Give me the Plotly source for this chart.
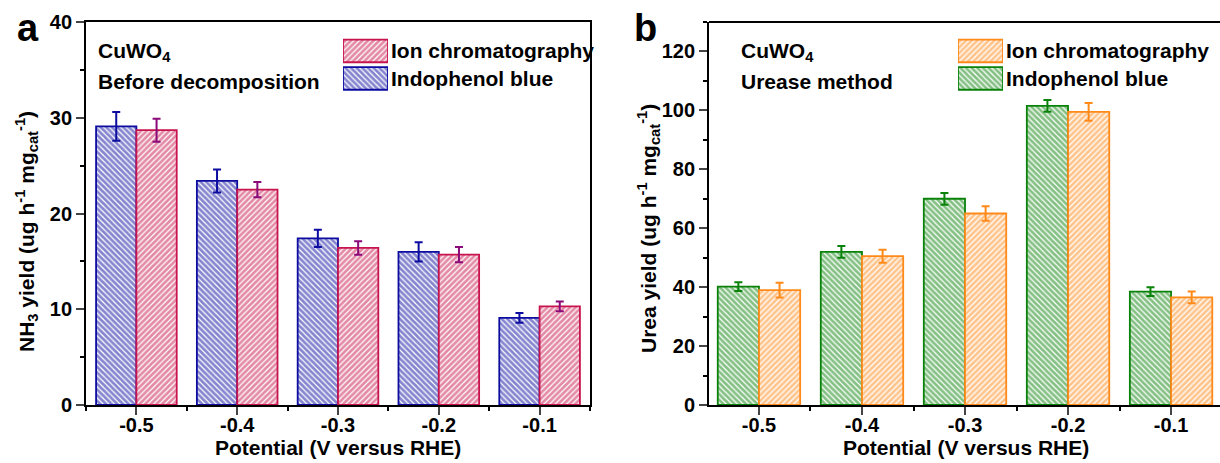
import plotly.graph_objects as go

potential = [-0.5, -0.4, -0.3, -0.2, -0.1]
tick_labels = ["-0.5", "-0.4", "-0.3", "-0.2", "-0.1"]

# Panel a: NH3 yield
nh3_indophenol = [29.1, 23.4, 17.4, 16.0, 9.1]
nh3_indophenol_err = [1.5, 1.2, 0.9, 1.0, 0.5]
nh3_ion = [28.7, 22.5, 16.4, 15.7, 10.3]
nh3_ion_err = [1.2, 0.8, 0.7, 0.8, 0.5]

# Panel b: Urea yield
urea_indophenol = [40.2, 52.0, 70.0, 101.5, 38.5]
urea_indophenol_err = [1.5, 2.0, 2.0, 2.0, 1.5]
urea_ion = [39.0, 50.5, 65.0, 99.5, 36.5]
urea_ion_err = [2.5, 2.2, 2.5, 3.0, 2.0]

FONT = "Liberation Sans"
W, H = 1220, 463

BLUE, PINK, PINK_ERR = "#0C0CA0", "#C8144E", "#8A0A7A"
GREEN, ORANGE = "#0A820A", "#FF8A1A"

def px_x(p):
    return p / W

def px_y(p):
    return 1 - p / H

fig = go.Figure()

def pattern(color, shape):
    return dict(shape=shape, fgcolor=color, bgcolor="white", size=4,
                solidity=0.7, fillmode="overlay")

def bar(x, y, err, name, color, errcolor, shape, offset, xa, ya):
    return go.Bar(
        x=x, y=y, name=name, width=0.04, offset=offset,
        xaxis=xa, yaxis=ya, showlegend=False,
        marker=dict(color="white", line=dict(color=color, width=1.8),
                    pattern=pattern(color, shape)),
        error_y=dict(type="data", array=err, color=errcolor, thickness=2, width=4),
    )

fig.add_trace(bar(potential, nh3_indophenol, nh3_indophenol_err, "Indophenol blue",
                  BLUE, BLUE, "\\", -0.04, "x", "y"))
fig.add_trace(bar(potential, nh3_ion, nh3_ion_err, "Ion chromatography",
                  PINK, PINK_ERR, "/", 0.0, "x", "y"))
fig.add_trace(bar(potential, urea_indophenol, urea_indophenol_err, "Indophenol blue",
                  GREEN, GREEN, "\\", -0.04, "x2", "y2"))
fig.add_trace(bar(potential, urea_ion, urea_ion_err, "Ion chromatography",
                  ORANGE, ORANGE, "/", 0.0, "x2", "y2"))

# legend swatches (drawn as bars in small helper axes)
def swatch(pos, name, color, shape, xa, ya):
    return go.Bar(x=[1], y=[pos], orientation="h", width=0.82, name=name,
                  xaxis=xa, yaxis=ya, showlegend=False, hoverinfo="name",
                  marker=dict(color="white", line=dict(color=color, width=1.8),
                              pattern=pattern(color, shape)))

fig.add_trace(swatch(1, "Ion chromatography", PINK, "/", "x3", "y3"))
fig.add_trace(swatch(0, "Indophenol blue", BLUE, "\\", "x3", "y3"))
fig.add_trace(swatch(1, "Ion chromatography", ORANGE, "/", "x4", "y4"))
fig.add_trace(swatch(0, "Indophenol blue", GREEN, "\\", "x4", "y4"))

tickfont = dict(family=FONT, size=20, color="black", weight="bold")

xcommon = dict(tickvals=potential, ticktext=tick_labels, ticks="outside", ticklen=8,
               tickwidth=1.8, showline=True, linecolor="black", linewidth=1.8,
               showgrid=False, zeroline=False, tickfont=tickfont, ticklabelstandoff=-7,
               minor=dict(tickvals=[-0.55, -0.45, -0.35, -0.25, -0.15, -0.05],
                          ticks="outside", ticklen=4, tickwidth=1.8, tickcolor="black"))
ycommon = dict(ticks="outside", ticklen=8, tickwidth=1.8, showline=True,
               linecolor="black", linewidth=1.8, showgrid=False, zeroline=False,
               tickfont=tickfont)
hidden = dict(visible=False, fixedrange=True)

fig.update_layout(
    width=W, height=H, margin=dict(l=0, r=0, t=0, b=0, autoexpand=False),
    plot_bgcolor="white", paper_bgcolor="white", showlegend=False,
    xaxis=dict(domain=[px_x(86), px_x(590)], range=[-0.55, -0.05], anchor="y",
               mirror=True, **xcommon),
    yaxis=dict(domain=[px_y(405), px_y(22)], range=[0, 40], dtick=10, anchor="x",
               mirror=True, minor=dict(dtick=5, ticks="outside", ticklen=4,
                                       tickwidth=1.8, tickcolor="black"), **ycommon),
    xaxis2=dict(domain=[px_x(709), 1.0], range=[-0.5485, -0.0525], anchor="y2",
                **xcommon),
    yaxis2=dict(domain=[px_y(405), px_y(22)], range=[0, 130], tickvals=[0, 20, 40, 60, 80, 100, 120],
                anchor="x2", minor=dict(tickvals=[10, 30, 50, 70, 90, 110, 130], ticks="outside",
                                        ticklen=4, tickwidth=1.8, tickcolor="black"), **ycommon),
    xaxis3=dict(domain=[px_x(343), px_x(388)], range=[0, 1], anchor="y3", **hidden),
    yaxis3=dict(domain=[px_y(92.25), px_y(37.25)], range=[-0.5, 1.5], anchor="x3", **hidden),
    xaxis4=dict(domain=[px_x(958), px_x(1003)], range=[0, 1], anchor="y4", **hidden),
    yaxis4=dict(domain=[px_y(92.25), px_y(37.25)], range=[-0.5, 1.5], anchor="x4", **hidden),
)

# top frame line for panel b (right edge is cut off)
fig.add_shape(type="line", xref="x2 domain", yref="y2 domain", x0=0, x1=1, y0=1, y1=1,
              line=dict(color="black", width=1.8))

annfont = dict(family=FONT, size=21, color="black", weight="bold")
bigfont = dict(family=FONT, size=38, color="black", weight="bold")
anns = [
    dict(text="a", x=px_x(28), y=px_y(28), font=bigfont),
    dict(text="b", x=px_x(645), y=px_y(28), font=bigfont),
    dict(text="CuWO<sub>4</sub>", x=px_x(96), y=px_y(52), xanchor="left", font=annfont),
    dict(text="Before decomposition", x=px_x(96), y=px_y(82), xanchor="left", font=annfont),
    dict(text="CuWO<sub>4</sub>", x=px_x(739), y=px_y(52), xanchor="left", font=annfont),
    dict(text="Urease method", x=px_x(739), y=px_y(82), xanchor="left", font=annfont),
    dict(text="Ion chromatography", x=px_x(389), y=px_y(51), xanchor="left", font=annfont),
    dict(text="Indophenol blue", x=px_x(389), y=px_y(78.5), xanchor="left", font=annfont),
    dict(text="Ion chromatography", x=px_x(1004), y=px_y(51), xanchor="left", font=annfont),
    dict(text="Indophenol blue", x=px_x(1004), y=px_y(78.5), xanchor="left", font=annfont),
    dict(text="Potential (V versus RHE)", x=px_x(338), y=px_y(447), font=annfont),
    dict(text="Potential (V versus RHE)", x=px_x(966), y=px_y(447), font=annfont),
    dict(text="NH<sub>3</sub> yield (ug h<sup>-1</sup> mg<sub>cat</sub><sup>-1</sup>)",
         x=px_x(27), y=px_y(232), textangle=-90, font=annfont),
    dict(text="Urea yield (ug h<sup>-1</sup> mg<sub>cat</sub><sup>-1</sup>)",
         x=px_x(648), y=px_y(228), textangle=-90, font=annfont),
]
for a in anns:
    a.setdefault("xanchor", "center")
    fig.add_annotation(xref="paper", yref="paper", showarrow=False, yanchor="middle", **a)

fig.write_html("out.html")
